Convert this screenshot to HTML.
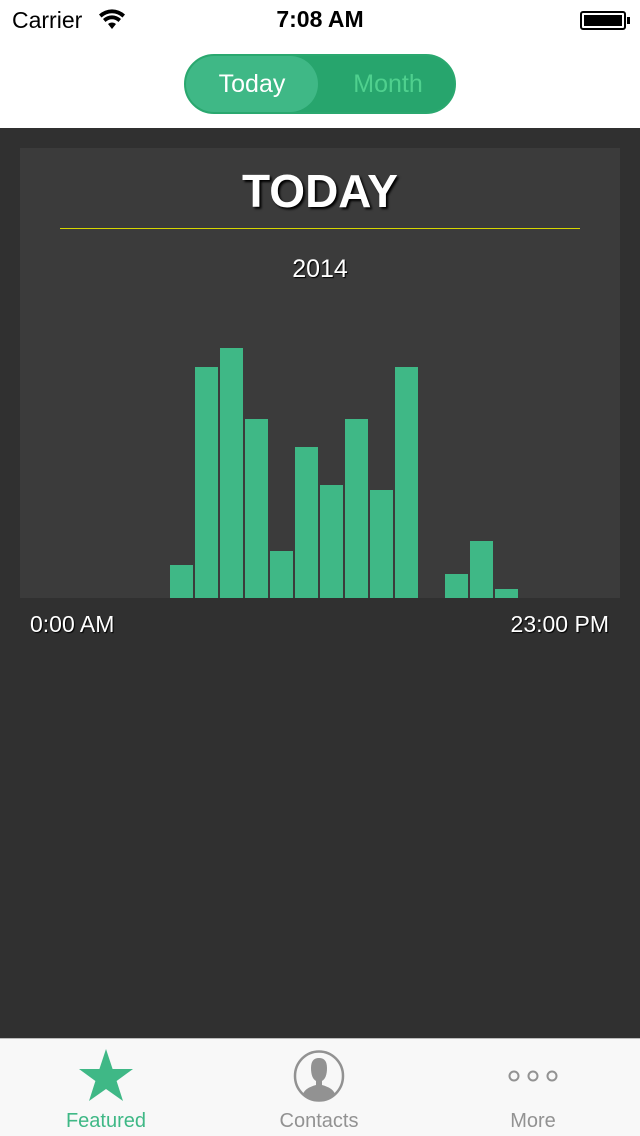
<!DOCTYPE html>
<html><head><meta charset="utf-8"><style>
*{margin:0;padding:0;box-sizing:border-box}
body{width:640px;height:1136px;overflow:hidden;background:#303030;font-family:"Liberation Sans",sans-serif;position:relative}
.abs{position:absolute}
</style></head><body>
<div class="abs" style="left:0;top:0;width:640px;height:128px;background:#fff"></div>
<div class="abs" style="left:12px;top:7px;font-size:23px;color:#000">Carrier</div>
<svg class="abs" style="left:98px;top:9px" width="28" height="22" viewBox="0 0 28 22"><path d="M14 20 L10 15 A6 6 0 0 1 18 15Z M5 10 A13 13 0 0 1 23 10 L20.5 13 A9 9 0 0 0 7.5 13Z M1 5.5 A19 19 0 0 1 27 5.5 L24.5 8.5 A15 15 0 0 0 3.5 8.5Z" fill="#000"/></svg>
<div class="abs" style="left:0;width:640px;top:6px;text-align:center;font-size:23px;font-weight:bold;color:#000">7:08 AM</div>
<div class="abs" style="left:580px;top:11px;width:46px;height:19px;border:2px solid #000;border-radius:3px;padding:2px"><div style="width:100%;height:100%;background:#000"></div></div>
<div class="abs" style="left:627px;top:17px;width:3px;height:7px;background:#000"></div>
<div class="abs" style="left:184px;top:54px;width:272px;height:60px;border-radius:30px;background:#27a56d;border:2px solid #2aa86f"></div>
<div class="abs" style="left:186px;top:56px;width:132px;height:56px;border-radius:28px;background:#3fb886;color:#fff;font-size:25px;text-align:center;line-height:56px">Today</div>
<div class="abs" style="left:322px;top:56px;width:132px;height:56px;color:#4fd08e;font-size:25px;text-align:center;line-height:56px">Month</div>
<div class="abs" style="left:20px;top:148px;width:600px;height:450px;background:#3b3b3b"></div>
<div class="abs" style="left:0;width:640px;top:164px;text-align:center;font-size:46px;font-weight:bold;color:#fff;text-shadow:2px 2px 2px #000">TODAY</div>
<div class="abs" style="left:60px;top:228px;width:520px;height:1px;background:#d6d600"></div>
<div class="abs" style="left:0;width:640px;top:255px;text-align:center;font-size:25px;color:#fff;text-shadow:1px 1px 1px #000">2014</div>
<svg class="abs" id="chart" style="left:0;top:0" width="640" height="640"></svg>
<div class="abs" style="left:30px;top:611px;font-size:23px;color:#fff;text-shadow:1px 1px 1px #000">0:00 AM</div>
<div class="abs" style="right:31px;top:611px;font-size:23px;color:#fff;text-shadow:1px 1px 1px #000">23:00 PM</div>
<div class="abs" style="left:0;top:1038px;width:640px;height:98px;background:#f8f8f8;border-top:1px solid #bbb"></div>
<svg class="abs" style="left:78px;top:1049px" width="56" height="54" viewBox="0 0 56 54"><polygon points="28,0 34.6,20 55,20 38.6,32 45,52 28,40 11,52 17.4,32 1,20 21.4,20" fill="#3fb886"/></svg>
<div class="abs" style="left:46px;width:120px;top:1110px;text-align:center;font-size:20px;color:#3fb886">Featured</div>
<svg class="abs" style="left:293px;top:1050px" width="52" height="52" viewBox="0 0 52 52"><ellipse cx="26" cy="26" rx="24" ry="24.5" fill="none" stroke="#929292" stroke-width="2.5"/><path d="M18 18 Q18 8 26 8 Q34 8 34 18 Q34 28 29 31 L29 35 Q40 38 42 44 Q34 50 26 50 Q18 50 10 44 Q12 38 23 35 L23 31 Q18 28 18 18Z" fill="#929292"/></svg>
<div class="abs" style="left:259px;width:120px;top:1110px;text-align:center;font-size:20px;color:#929292">Contacts</div>
<svg class="abs" style="left:506px;top:1068px" width="54" height="16"><circle cx="8" cy="8" r="4.5" fill="none" stroke="#929292" stroke-width="2"/><circle cx="27" cy="8" r="4.5" fill="none" stroke="#929292" stroke-width="2"/><circle cx="46" cy="8" r="4.5" fill="none" stroke="#929292" stroke-width="2"/></svg>
<div class="abs" style="left:473px;width:120px;top:1110px;text-align:center;font-size:20px;color:#929292">More</div>
<script>
const hours = [0,1,2,3,4,5,6,7,8,9,10,11,12,13,14,15,16,17,18,19,20,21,22,23];
const counts = [0,0,0,0,0,0,33,231,250,179,47,151,113,179,108,231,0,24,57,9,0,0,0,0];
const yMax = 250;
const plotLeft=20, plotWidth=600, baseY=598, plotHeight=250;
const xScale = h => plotLeft + h*(plotWidth/hours.length);
const yScale = v => v/yMax*plotHeight;
const svg=document.getElementById('chart');
hours.forEach((h,i)=>{
  const v=counts[i]; if(v<=0) return;
  const r=document.createElementNS('http://www.w3.org/2000/svg','rect');
  const hgt=yScale(v);
  r.setAttribute('x',xScale(h));
  r.setAttribute('y',baseY-hgt);
  r.setAttribute('width',plotWidth/hours.length-2);
  r.setAttribute('height',hgt);
  r.setAttribute('fill','#3fb886');
  
  
  svg.appendChild(r);
});
</script>
</body></html>
